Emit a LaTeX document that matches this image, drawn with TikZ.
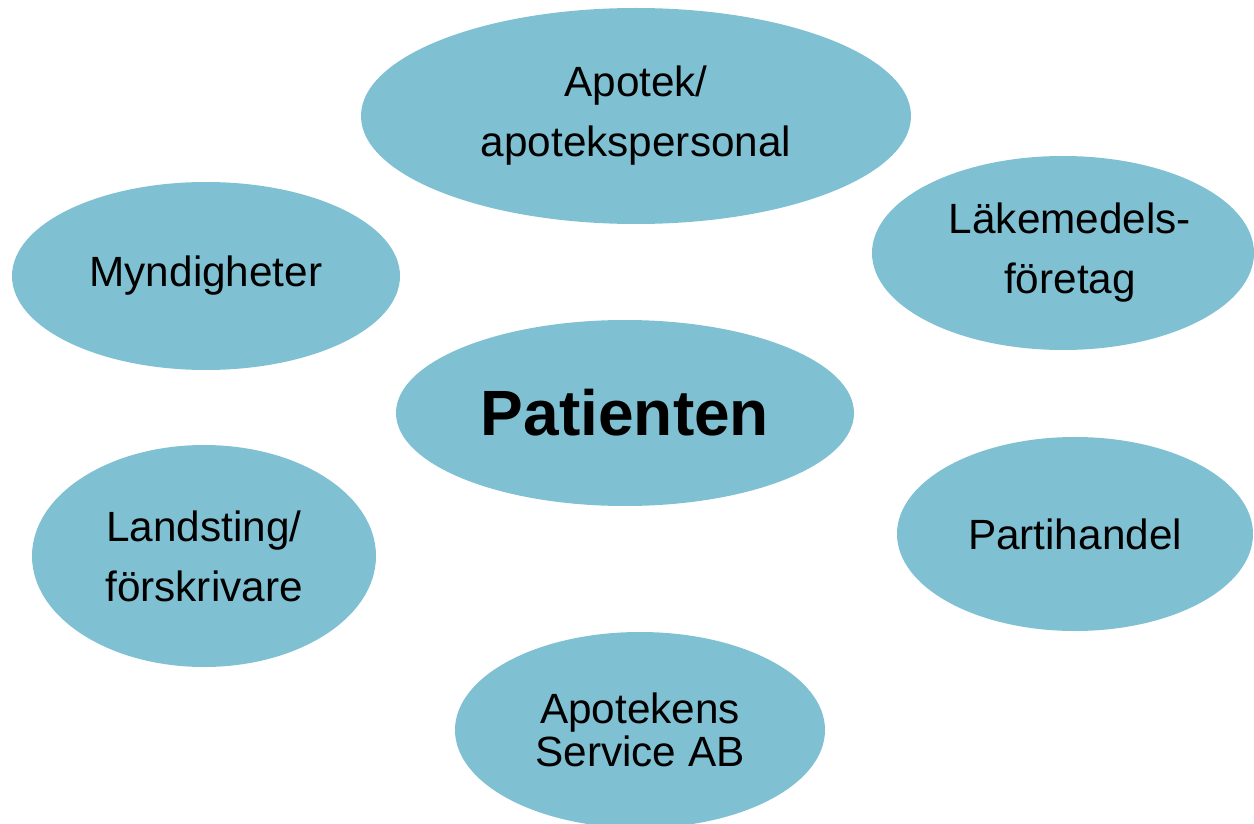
\documentclass[tikz,border=0pt]{standalone}
\usepackage{fontspec}
\setmainfont{Liberation Sans}
\usetikzlibrary{shapes.geometric}
\definecolor{bub}{HTML}{7FC1D3}
\tikzset{
  bubble/.style={ellipse, fill=bub, draw=none, inner sep=0pt, align=center,
    font=\fontsize{42.3}{60}\selectfont},
}
\begin{document}
\begin{tikzpicture}[x=1pt,y=-1pt]
\useasboundingbox (0,0) rectangle (1254,824);
\node[bubble, minimum width=550, minimum height=216] (apotek) at (636,116) {Apotek/\\apotekspersonal};
\node[bubble, minimum width=388, minimum height=188] (mynd) at (206,276) {Myndigheter};
\node[bubble, minimum width=382, minimum height=194] (lake) at (1063,253) {\hspace{14pt}Läkemedels-\\\hspace{14pt}företag};
\node[bubble, minimum width=458, minimum height=186, font=\fontsize{64}{70}\selectfont\bfseries] (pat) at (625,413) {Patienten};
\node[bubble, minimum width=344, minimum height=222] (lands) at (204,556) {Landsting/\\förskrivare};
\node[bubble, minimum width=356, minimum height=194] (parti) at (1075,534) {Partihandel};
\node[bubble, minimum width=370, minimum height=196, font=\fontsize{42.3}{43}\selectfont] (aps) at (640,730) {Apotekens\\Service AB};
\end{tikzpicture}
\end{document}
